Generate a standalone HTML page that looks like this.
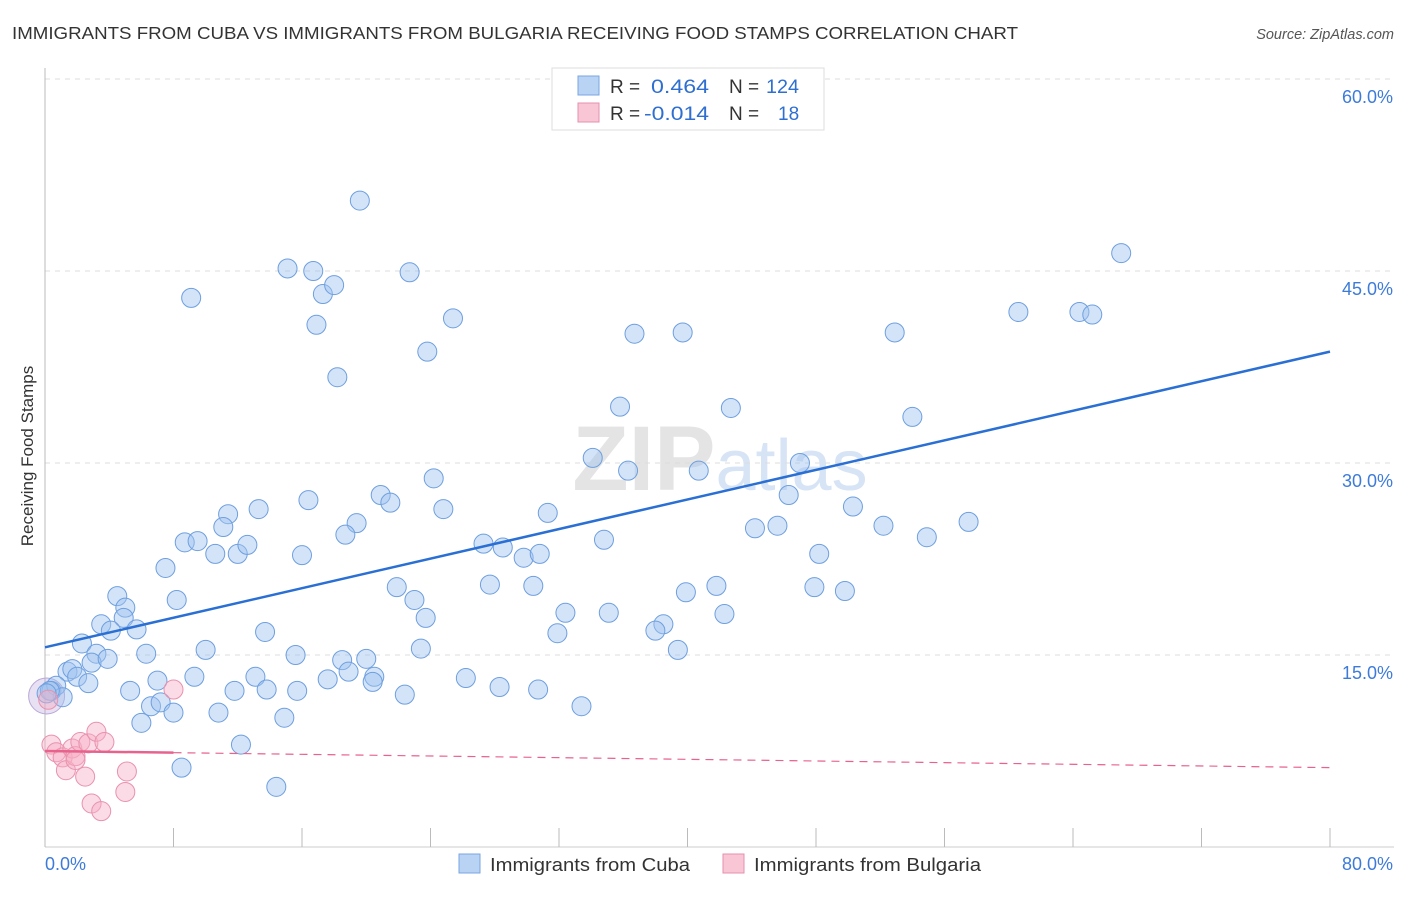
<!DOCTYPE html>
<html><head><meta charset="utf-8"><style>
body{margin:0;background:#fff;font-family:"Liberation Sans",sans-serif;}
svg text{font-family:"Liberation Sans",sans-serif;}
</style></head><body>
<svg id="chart" width="1406" height="892" xmlns="http://www.w3.org/2000/svg">
<text x="12" y="39" font-size="17.5" fill="#333" textLength="1006" lengthAdjust="spacingAndGlyphs">IMMIGRANTS FROM CUBA VS IMMIGRANTS FROM BULGARIA RECEIVING FOOD STAMPS CORRELATION CHART</text>
<text x="1394" y="39" font-size="14.5" fill="#555" text-anchor="end" font-style="italic">Source: ZipAtlas.com</text>
<text x="720" y="490" font-size="92" fill="#e4e4e4" text-anchor="middle" font-weight="bold" font-family="Liberation Serif">ZIP<tspan fill="#d6e4f5" font-family="Liberation Sans" font-weight="normal" font-size="72">atlas</tspan></text>
<g id="grid"></g>
<g id="axes"></g>
<g id="marks"></g>
<text transform="translate(33,456) rotate(-90)" font-size="17" fill="#333" text-anchor="middle">Receiving Food Stamps</text>
<g>
<rect x="552" y="68" width="272" height="62" fill="#fff" stroke="#ddd"/>
<rect x="578" y="76" width="21" height="19" fill="#b9d3f5" stroke="#7aa6e0"/>
<text x="610" y="93" font-size="19" fill="#333">R = </text><text x="651" y="93" font-size="19" fill="#2f6fd0" textLength="58" lengthAdjust="spacingAndGlyphs">0.464</text>
<text x="729" y="93" font-size="19" fill="#333">N = </text><text x="766" y="93" font-size="19" fill="#2f6fd0" textLength="33" lengthAdjust="spacingAndGlyphs">124</text>
<rect x="578" y="103" width="21" height="19" fill="#f9c6d6" stroke="#e590ac"/>
<text x="610" y="120" font-size="19" fill="#333">R = </text><text x="644" y="120" font-size="19" fill="#2f6fd0" textLength="65" lengthAdjust="spacingAndGlyphs">-0.014</text>
<text x="729" y="120" font-size="19" fill="#333">N = </text><text x="778" y="120" font-size="19" fill="#2f6fd0">18</text>
</g>
<g>
<rect x="459" y="854" width="21" height="19" fill="#b9d3f5" stroke="#7aa6e0"/>
<text x="490" y="871" font-size="18" fill="#333" textLength="200" lengthAdjust="spacingAndGlyphs">Immigrants from Cuba</text>
<rect x="723" y="854" width="21" height="19" fill="#f9c6d6" stroke="#e590ac"/>
<text x="754" y="871" font-size="18" fill="#333" textLength="227" lengthAdjust="spacingAndGlyphs">Immigrants from Bulgaria</text>
</g>
</svg>
<script>
const yTicks=[15,30,45,60];
const yTickLabels=["15.0%","30.0%","45.0%","60.0%"];
const xTicks=[0,8,16,24,32,40,48,56,64,72,80];
const cubaX=[9.1,15.1,16.7,17.3,18.0,16.9,18.2,19.6,22.7,25.4,23.8,36.7,39.7,52.9,60.6,64.4,65.2,67.0,35.8,42.7,54.0,34.1,36.3,40.7,47.0,24.2,46.3,50.3,52.2,54.9,57.5,44.2,45.6,48.2,20.9,21.5,24.8,31.3,16.4,19.4,18.7,13.3,11.4,11.1,8.7,9.5,10.6,12.0,12.6,16.0,27.3,28.5,29.8,30.8,34.8,7.5,4.5,8.2,5.0,4.9,3.5,4.1,5.7,13.7,21.9,23.0,23.7,27.7,30.4,32.4,35.1,39.9,41.8,42.3,47.9,49.8,38.5,38.0,31.9,39.4,2.3,3.2,2.9,3.9,6.3,10.0,15.6,18.5,20.0,23.4,18.9,20.5,20.4,1.4,1.7,2.0,2.7,0.4,0.7,1.1,5.3,7.0,9.3,13.1,11.8,13.8,15.7,17.6,22.4,26.2,28.3,30.7,33.4,6.6,7.2,8.0,10.8,6.0,14.9,12.2,8.5,14.4,0.3,0.1];
const cubaY=[42.9,45.2,45.0,43.2,43.9,40.8,36.7,50.5,44.9,41.3,38.7,40.1,40.2,40.2,41.8,41.8,41.6,46.4,34.4,34.3,33.6,30.4,29.4,29.4,30.0,28.8,27.5,26.6,25.1,24.2,25.4,24.9,25.1,22.9,27.5,26.9,26.4,26.1,27.1,25.3,24.4,26.4,26.0,25.0,23.8,23.9,22.9,22.9,23.6,22.8,23.7,23.4,22.6,22.9,24.0,21.8,19.6,19.3,18.7,17.9,17.4,16.9,17.0,16.8,20.3,19.3,17.9,20.5,20.4,18.3,18.3,19.9,20.4,18.2,20.3,20.0,17.4,16.9,16.7,15.4,15.9,15.1,14.4,14.7,15.1,15.4,15.0,14.6,14.7,15.5,13.7,13.3,12.9,13.7,13.9,13.3,12.8,12.2,12.6,11.7,12.2,13.0,13.3,13.3,12.2,12.3,12.2,13.1,11.9,13.2,12.5,12.3,11.0,11.0,11.3,10.5,10.5,9.7,10.1,8.0,6.2,4.7,12.2,12.0];
const bulgX=[0.4,0.7,1.1,1.3,1.7,1.9,2.2,2.5,2.7,2.9,3.2,3.5,3.7,5.1,5.0,8.0,0.2,1.9];
const bulgY=[8.0,7.4,7.0,6.0,7.7,7.1,8.2,5.5,8.1,3.4,9.0,2.8,8.2,5.9,4.3,12.3,11.5,6.8];
const cubaTrend=[15.6,38.7];
const bulgTrend=[7.5,6.2];
const X0=45,X1=1330,Y0=847,Y60=79;
const sx=v=>X0+(X1-X0)*v/80;
const sy=v=>Y0-(Y0-Y60)*v/60;
const NS="http://www.w3.org/2000/svg";
function mk(t,a,p){const e=document.createElementNS(NS,t);for(const k in a)e.setAttribute(k,a[k]);p.appendChild(e);return e;}
const grid=document.getElementById('grid'),axes=document.getElementById('axes'),marks=document.getElementById('marks');
yTicks.forEach((v,i)=>{
 const l=mk('line',{x1:X0,x2:1394,y1:sy(v),y2:sy(v),stroke:'#ddd','stroke-dasharray':'5,5'},grid);
 
 
 const t=mk('text',{x:1393,y:sy(v)+24,'font-size':18,fill:'#3d7bd9','text-anchor':'end'},axes);
 t.textContent=yTickLabels[i];
 
 
});
const al=mk('line',{x1:X0,x2:X0,y1:68,y2:Y0,stroke:'#bbb'},axes);


const bl=mk('line',{x1:X0,x2:1394,y1:Y0,y2:Y0,stroke:'#ccc'},axes);


xTicks.forEach(v=>{
 const t=mk('line',{x1:sx(v),x2:sx(v),y1:Y0,y2:Y0-19,stroke:'#bbb'},axes);
 
 
});
const xl0=mk('text',{x:45,y:870,'font-size':18,fill:'#3d7bd9'},axes);xl0.textContent='0.0%';


const xl1=mk('text',{x:1393,y:870,'font-size':18,fill:'#3d7bd9','text-anchor':'end'},axes);xl1.textContent='80.0%';


const big=mk('circle',{cx:sx(0.1),cy:sy(11.8),r:18,fill:'rgba(190,170,220,0.35)',stroke:'#b8a8d8'},marks);


cubaX.forEach((v,i)=>{
 const c=mk('circle',{cx:sx(v),cy:sy(cubaY[i]),r:9.5,fill:'rgba(160,195,240,0.45)',stroke:'#6e9fdf','stroke-width':1},marks);
 
 
});
bulgX.forEach((v,i)=>{
 const c=mk('circle',{cx:sx(v),cy:sy(bulgY[i]),r:9.5,fill:'rgba(246,175,198,0.45)',stroke:'#e892ae','stroke-width':1},marks);
 
 
});
const tl=mk('line',{x1:sx(0),y1:sy(cubaTrend[0]),x2:sx(80),y2:sy(cubaTrend[1]),stroke:'#2a6fd4','stroke-width':2.5},marks);


const slope=(bulgTrend[1]-bulgTrend[0])/80;
const p1=mk('line',{x1:sx(0),y1:sy(bulgTrend[0]),x2:sx(8),y2:sy(bulgTrend[0]+slope*8),stroke:'#e8628e','stroke-width':2.5},marks);


const p2=mk('line',{x1:sx(8),y1:sy(bulgTrend[0]+slope*8),x2:sx(80),y2:sy(bulgTrend[1]),stroke:'#e8628e','stroke-width':1.2,'stroke-dasharray':'8,6'},marks);


</script>
</body></html>
